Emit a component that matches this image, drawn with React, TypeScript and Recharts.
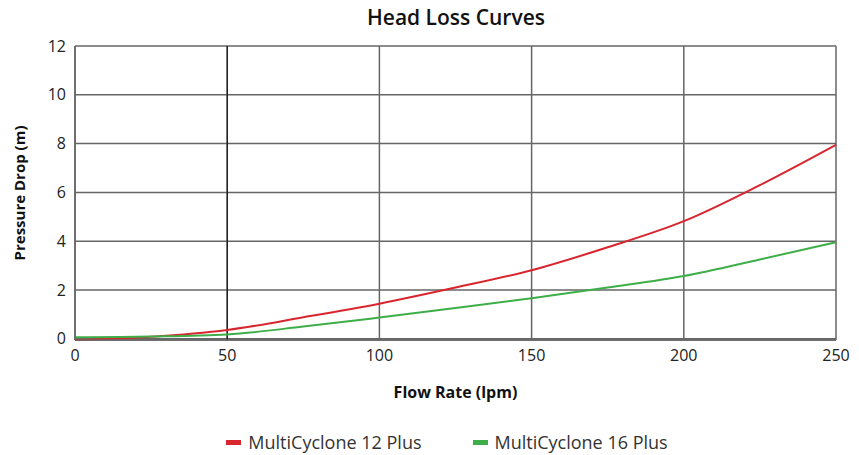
import {
  CartesianGrid,
  Legend,
  Line,
  LineChart,
  ReferenceLine,
  XAxis,
  YAxis,
} from "recharts";

// flow rate (lpm)
const flow = [0, 25, 50, 75, 100, 125, 150, 175, 200, 225, 250];
// pressure drop (m)
const mc12 = [-0.05, 0.08, 0.36, 0.88, 1.44, 2.1, 2.81, 3.75, 4.82, 6.3, 7.95];
const mc16 = [0.06, 0.09, 0.18, 0.5, 0.87, 1.26, 1.66, 2.1, 2.57, 3.25, 3.96];

const xTicks = [0, 50, 100, 150, 200, 250];
const yTicks = [0, 2, 4, 6, 8, 10, 12];

const series = [
  { key: "mc12", name: "MultiCyclone 12 Plus", color: "#d9262e" },
  { key: "mc16", name: "MultiCyclone 16 Plus", color: "#3eae49" },
];

const rows = flow.map((f, i) => ({ flow: f, mc12: mc12[i], mc16: mc16[i] }));

const font = "'Open Sans', 'DejaVu Sans', sans-serif";

function LegendBox() {
  return (
    <div
      style={{
        display: "flex",
        justifyContent: "center",
        gap: 51,
        paddingTop: 3,
        paddingLeft: 58,
        fontFamily: font,
        fontSize: 18,
        color: "#333",
      }}
    >
      {series.map((s) => (
        <div key={s.key} style={{ display: "flex", alignItems: "center" }}>
          <span style={{ display: "inline-block", width: 15, height: 5, background: s.color, marginRight: 7 }} />
          {s.name}
        </div>
      ))}
    </div>
  );
}

export default function App() {
  return (
    <div style={{ position: "absolute", left: 0, top: 0, width: 859, height: 455, background: "#fff" }}>
      <div
        style={{
          position: "absolute",
          left: 0,
          top: 3,
          width: 912,
          textAlign: "center",
          fontFamily: font,
          fontSize: 21,
          fontWeight: 600,
          color: "#111",
        }}
      >
        Head Loss Curves
      </div>
      <LineChart width={859} height={455} data={rows} margin={{ top: 46, right: 23, left: 0, bottom: 0 }}>
        <CartesianGrid stroke="#666" strokeWidth={1.5} />
        <XAxis
          dataKey="flow"
          type="number"
          domain={[0, 250]}
          ticks={xTicks}
          tickLine={false}
          axisLine={{ stroke: "#666", strokeWidth: 1.5 }}
          tick={{ fill: "#222", fontSize: 16, fontFamily: font }}
          tickMargin={4}
          height={87}
          label={{
            value: "Flow Rate (lpm)",
            position: "insideBottom",
            offset: 29,
            style: { fill: "#111", fontSize: 16, fontWeight: 700, fontFamily: font },
          }}
        />
        <YAxis
          type="number"
          domain={[0, 12]}
          ticks={yTicks}
          tickLine={false}
          axisLine={{ stroke: "#666", strokeWidth: 1.5 }}
          tick={{ fill: "#222", fontSize: 16, fontFamily: font }}
          tickMargin={3}
          width={75}
          label={{
            value: "Pressure Drop (m)",
            angle: -90,
            position: "insideLeft",
            offset: 20,
            style: { textAnchor: "middle", fill: "#111", fontSize: 15, fontWeight: 700, fontFamily: font },
          }}
        />
        <ReferenceLine x={50} stroke="#000" strokeWidth={1} />
        <Legend verticalAlign="bottom" height={28} content={() => <LegendBox />} />
        {series.map((s) => (
          <Line
            key={s.key}
            type="monotone"
            dataKey={s.key}
            name={s.name}
            stroke={s.color}
            strokeWidth={2}
            dot={false}
            isAnimationActive={false}
          />
        ))}
      </LineChart>
    </div>
  );
}
